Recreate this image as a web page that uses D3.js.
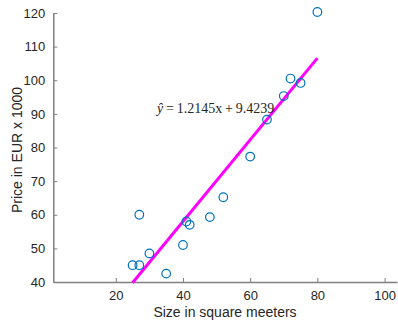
<!DOCTYPE html>
<html>
<head>
<meta charset="utf-8">
<script src="https://cdn.jsdelivr.net/npm/d3@7"></script>
<style>
  body { margin: 0; background: #fff; }
  svg { display: block; }
</style>
</head>
<body>
<svg id="chart" width="398" height="321"></svg>
<script>
// data
const sizes  = [25, 27, 27, 30, 35, 40, 41, 42, 48, 52, 60, 65, 70, 72, 75, 80];
const prices = [45, 45, 60, 48.5, 42.5, 51, 58, 57, 59.3, 65.2, 77.3, 88.3, 95.3, 100.5, 99.2, 120.3];
const fitCoef = [1.2145, 9.4239];   // slope, intercept
const fitRange = [25, 80];
const xTicks = [20, 40, 60, 80, 100];
const yTicks = [40, 50, 60, 70, 80, 90, 100, 110, 120];

const svg = d3.select("#chart");
const axisColor = "#808080";
const textColor = "#262626";

const x = d3.scaleLinear().domain([1.4, 103.7]).range([53.3, 397]);
const y = d3.scaleLinear().domain([40, 120]).range([282, 13]);

// axes (box off, ticks pointing in)
const xAxis = svg.append("g")
    .attr("transform", `translate(0,${y(40)})`)
    .call(d3.axisBottom(x).tickValues(xTicks).tickSize(-4).tickSizeOuter(0).tickPadding(9));
const yAxis = svg.append("g")
    .attr("transform", `translate(${x(1.4)},0)`)
    .call(d3.axisLeft(y).tickValues(yTicks).tickSize(-4).tickSizeOuter(0).tickPadding(8));

[xAxis, yAxis].forEach(g => {
    g.select(".domain").attr("stroke", axisColor).attr("stroke-width", 1.5);
    g.selectAll(".tick line").attr("stroke", axisColor).attr("stroke-width", 1);
    g.selectAll(".tick text")
        .attr("fill", textColor)
        .style("font-family", "'Liberation Sans', Arial, sans-serif")
        .style("font-size", "13px");
});

// regression line
const line = d3.line().x(d => x(d)).y(d => y(fitCoef[0] * d + fitCoef[1]));
svg.append("path")
    .datum(fitRange)
    .attr("fill", "none")
    .attr("stroke", "#ff00ff")
    .attr("stroke-width", 3)
    .attr("d", line);

// data points
svg.selectAll(".pt")
    .data(sizes)
    .enter()
    .append("circle")
    .attr("class", "pt")
    .attr("cx", d => x(d))
    .attr("cy", (d, i) => y(prices[i]))
    .attr("r", 4.3)
    .attr("fill", "none")
    .attr("stroke", "#0072bd")
    .attr("stroke-width", 1.2);

// equation label
const eq = svg.append("text")
    .attr("x", 157)
    .attr("y", 113)
    .attr("fill", textColor)
    .style("font-family", "'Liberation Serif', 'Times New Roman', serif")
    .style("font-size", "14px");
eq.append("tspan").style("font-style", "italic").text("ŷ");
eq.append("tspan").text(`\u2009=\u2009${fitCoef[0]}x\u2009+\u2009${fitCoef[1]}`);

// axis labels
svg.append("text")
    .attr("x", 225)
    .attr("y", 317)
    .attr("text-anchor", "middle")
    .attr("fill", textColor)
    .style("font-family", "'Liberation Sans', Arial, sans-serif")
    .style("font-size", "14px")
    .text("Size in square meeters");

svg.append("text")
    .attr("transform", "rotate(-90)")
    .attr("x", -150)
    .attr("y", 22)
    .attr("text-anchor", "middle")
    .attr("fill", textColor)
    .style("font-family", "'Liberation Sans', Arial, sans-serif")
    .style("font-size", "14px")
    .text("Price in EUR x 1000");
</script>
</body>
</html>
